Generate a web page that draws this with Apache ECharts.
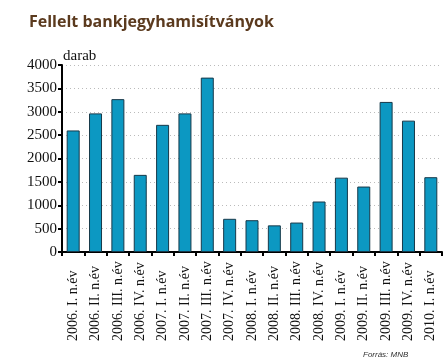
<!DOCTYPE html>
<html><head><meta charset="utf-8">
<script src="https://cdn.jsdelivr.net/npm/echarts@6/dist/echarts.min.js"></script>
<style>html,body{margin:0;padding:0;background:#fff}#c{width:447px;height:359px}</style>
</head><body><div id="c"></div>
<script>
const categories = ["2006. I. n.év","2006. II. n.év","2006. III. n.év","2006. IV. n.év","2007. I. n.év","2007. II. n.év","2007. III. n.év","2007. IV. n.év","2008. I. n.év","2008. II. n.év","2008. III. n.év","2008. IV. n.év","2009. I. n.év","2009. II. n.év","2009. III. n.év","2009. IV. n.év","2010. I. n.év"];
const values = [2600,2965,3270,1650,2720,2965,3730,710,680,570,630,1080,1590,1400,3210,2810,1600];
const chart = echarts.init(document.getElementById('c'));
chart.setOption({
  animation:false,
  title:[{text:'Fellelt bankjegyhamisítványok',left:24,top:9,textStyle:{fontFamily:'Open Sans',fontWeight:'bold',fontSize:16,color:'#5b3a1e'}},
         {text:'Forrás: MNB',left:358,top:346,textStyle:{fontFamily:'Liberation Sans',fontStyle:'italic',fontWeight:'normal',fontSize:8,color:'#333'}}],
  grid:{left:62,right:5,top:65,bottom:107},
  xAxis:{type:'category',data:categories,
    axisLine:{lineStyle:{color:'#000',width:2}},
    axisTick:{show:true,alignWithLabel:false,length:4,lineStyle:{color:'#000',width:2}},
    axisLabel:{rotate:90,interval:0,fontFamily:'Liberation Serif',fontSize:14,color:'#111',margin:89,align:'left'}},
  yAxis:{type:'value',min:0,max:4000,interval:500,name:'darab',nameLocation:'end',nameGap:1,
    nameTextStyle:{fontFamily:'Liberation Serif',fontSize:15,color:'#111',align:'left',padding:[0,0,0,1]},
    axisLine:{show:true,lineStyle:{color:'#000',width:2}},
    axisTick:{show:true,length:4,lineStyle:{color:'#000',width:2}},
    axisLabel:{fontFamily:'Liberation Serif',fontSize:15,color:'#111',margin:5,formatter:function(v){return String(v);}},
    splitLine:{lineStyle:{color:'#bbb',type:[1,3],width:1}}},
  series:[{type:'bar',data:values,barWidth:13,
    itemStyle:{color:'#0c98c2',borderColor:'#17394a',borderWidth:1}}]
});
</script></body></html>
